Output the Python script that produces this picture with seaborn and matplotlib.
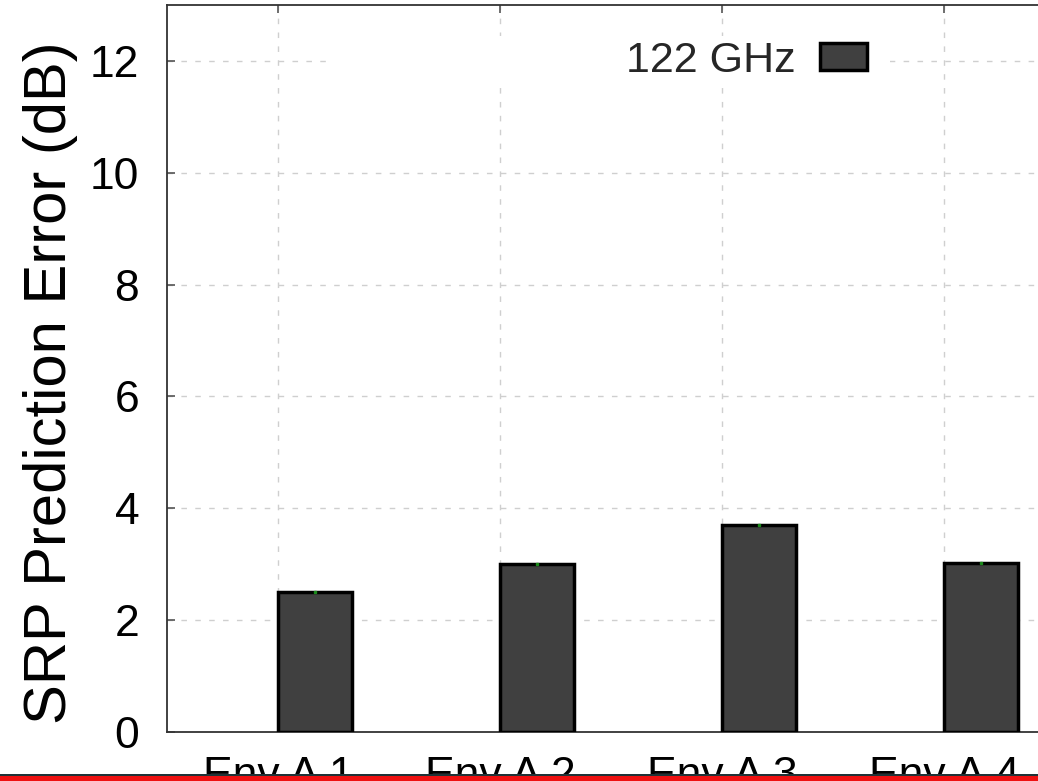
import matplotlib
matplotlib.use("Agg")
import matplotlib.pyplot as plt
from matplotlib.patches import Rectangle
import pandas as pd
import seaborn as sns

# Prediction error per environment at 122 GHz
environments = ["Env A 1", "Env A 2", "Env A 3", "Env A 4"]
srp_error_db = [2.5, 3.0, 3.7, 3.02]
series_name = "122 GHz"
y_ticks = [0, 2, 4, 6, 8, 10, 12]

df = pd.DataFrame({
    "env": environments,
    "err": srp_error_db,
    "series": [series_name] * len(environments),
})

sns.set_theme(style="white")
plt.rcParams["font.family"] = ["Liberation Sans", "DejaVu Sans"]

W, H = 1038, 781
fig = plt.figure(figsize=(W / 100, H / 100), dpi=100)
# axes extend past the right edge of the canvas
left_px, right_px, top_px, bottom_px = 167, 1055, 5, 732
ax = fig.add_axes([left_px / W, 1 - bottom_px / H,
                   (right_px - left_px) / W, (bottom_px - top_px) / H])

sns.barplot(data=df, x="env", y="err", hue="series",
            palette={series_name: "#404040"}, dodge=False, width=1 / 3,
            edgecolor="black", linewidth=2.5, ax=ax, zorder=3)

# bars sit just right of each category tick
bars = list(ax.containers[0])
for b in bars:
    b.set_x(b.get_x() + b.get_width() / 2)
centers = [b.get_x() + b.get_width() / 2 for b in bars]
ax.plot(centers, srp_error_db, linestyle="none", marker="s", markersize=1.5,
        color="#1a8a1a", zorder=4)

ax.set_xlim(-0.5, 3.5)
ax.set_ylim(0, 13)
ax.set_yticks(y_ticks)
ax.set_yticklabels([str(t) for t in y_ticks])

ax.grid(True, color="#cfcfcf", linestyle=(0, (4, 6)), linewidth=1.0, zorder=0)
ax.set_axisbelow(True)

ax.tick_params(axis="both", direction="in", length=6, width=1.2,
               color="#555555", labelsize=32, labelcolor="black")
ax.tick_params(axis="y", pad=20, left=True, right=False)
ax.tick_params(axis="x", pad=17, bottom=True, top=True)

for side in ["left", "bottom", "top"]:
    ax.spines[side].set_visible(True)
    ax.spines[side].set_color("#333333")
    ax.spines[side].set_linewidth(1.3)
ax.spines["right"].set_visible(False)

ax.set_xlabel("")
ax.set_ylabel("SRP Prediction Error (dB)", fontsize=43, color="black")
ax.yaxis.set_label_coords((78 - left_px) / (right_px - left_px),
                          (bottom_px - 383) / (bottom_px - top_px))

# opaque key area hiding the grid behind the legend
ax.add_patch(Rectangle(((332 - left_px) / (right_px - left_px),
                        (bottom_px - 88) / (bottom_px - top_px)),
                       (890 - 332) / (right_px - left_px),
                       (88 - 36) / (bottom_px - top_px),
                       transform=ax.transAxes, facecolor="white",
                       edgecolor="none", zorder=2))

handles, labels = ax.get_legend_handles_labels()
ax.legend(handles, labels, loc="center right",
          bbox_to_anchor=((867 - left_px) / (right_px - left_px),
                          (bottom_px - 61) / (bottom_px - top_px)),
          frameon=False, markerfirst=False, fontsize=31,
          handlelength=1.1, handleheight=0.58, handletextpad=0.55,
          borderpad=0, borderaxespad=0)

# strip along the bottom edge
fig.add_artist(Rectangle((0, 0), 1, 5 / H, transform=fig.transFigure,
                         facecolor="#ee1111", edgecolor="none", zorder=20))
fig.add_artist(Rectangle((0, 5 / H), 1, 2 / H, transform=fig.transFigure,
                         facecolor="#1f3337", edgecolor="none", zorder=20))

fig.savefig("out.png", dpi=100)
